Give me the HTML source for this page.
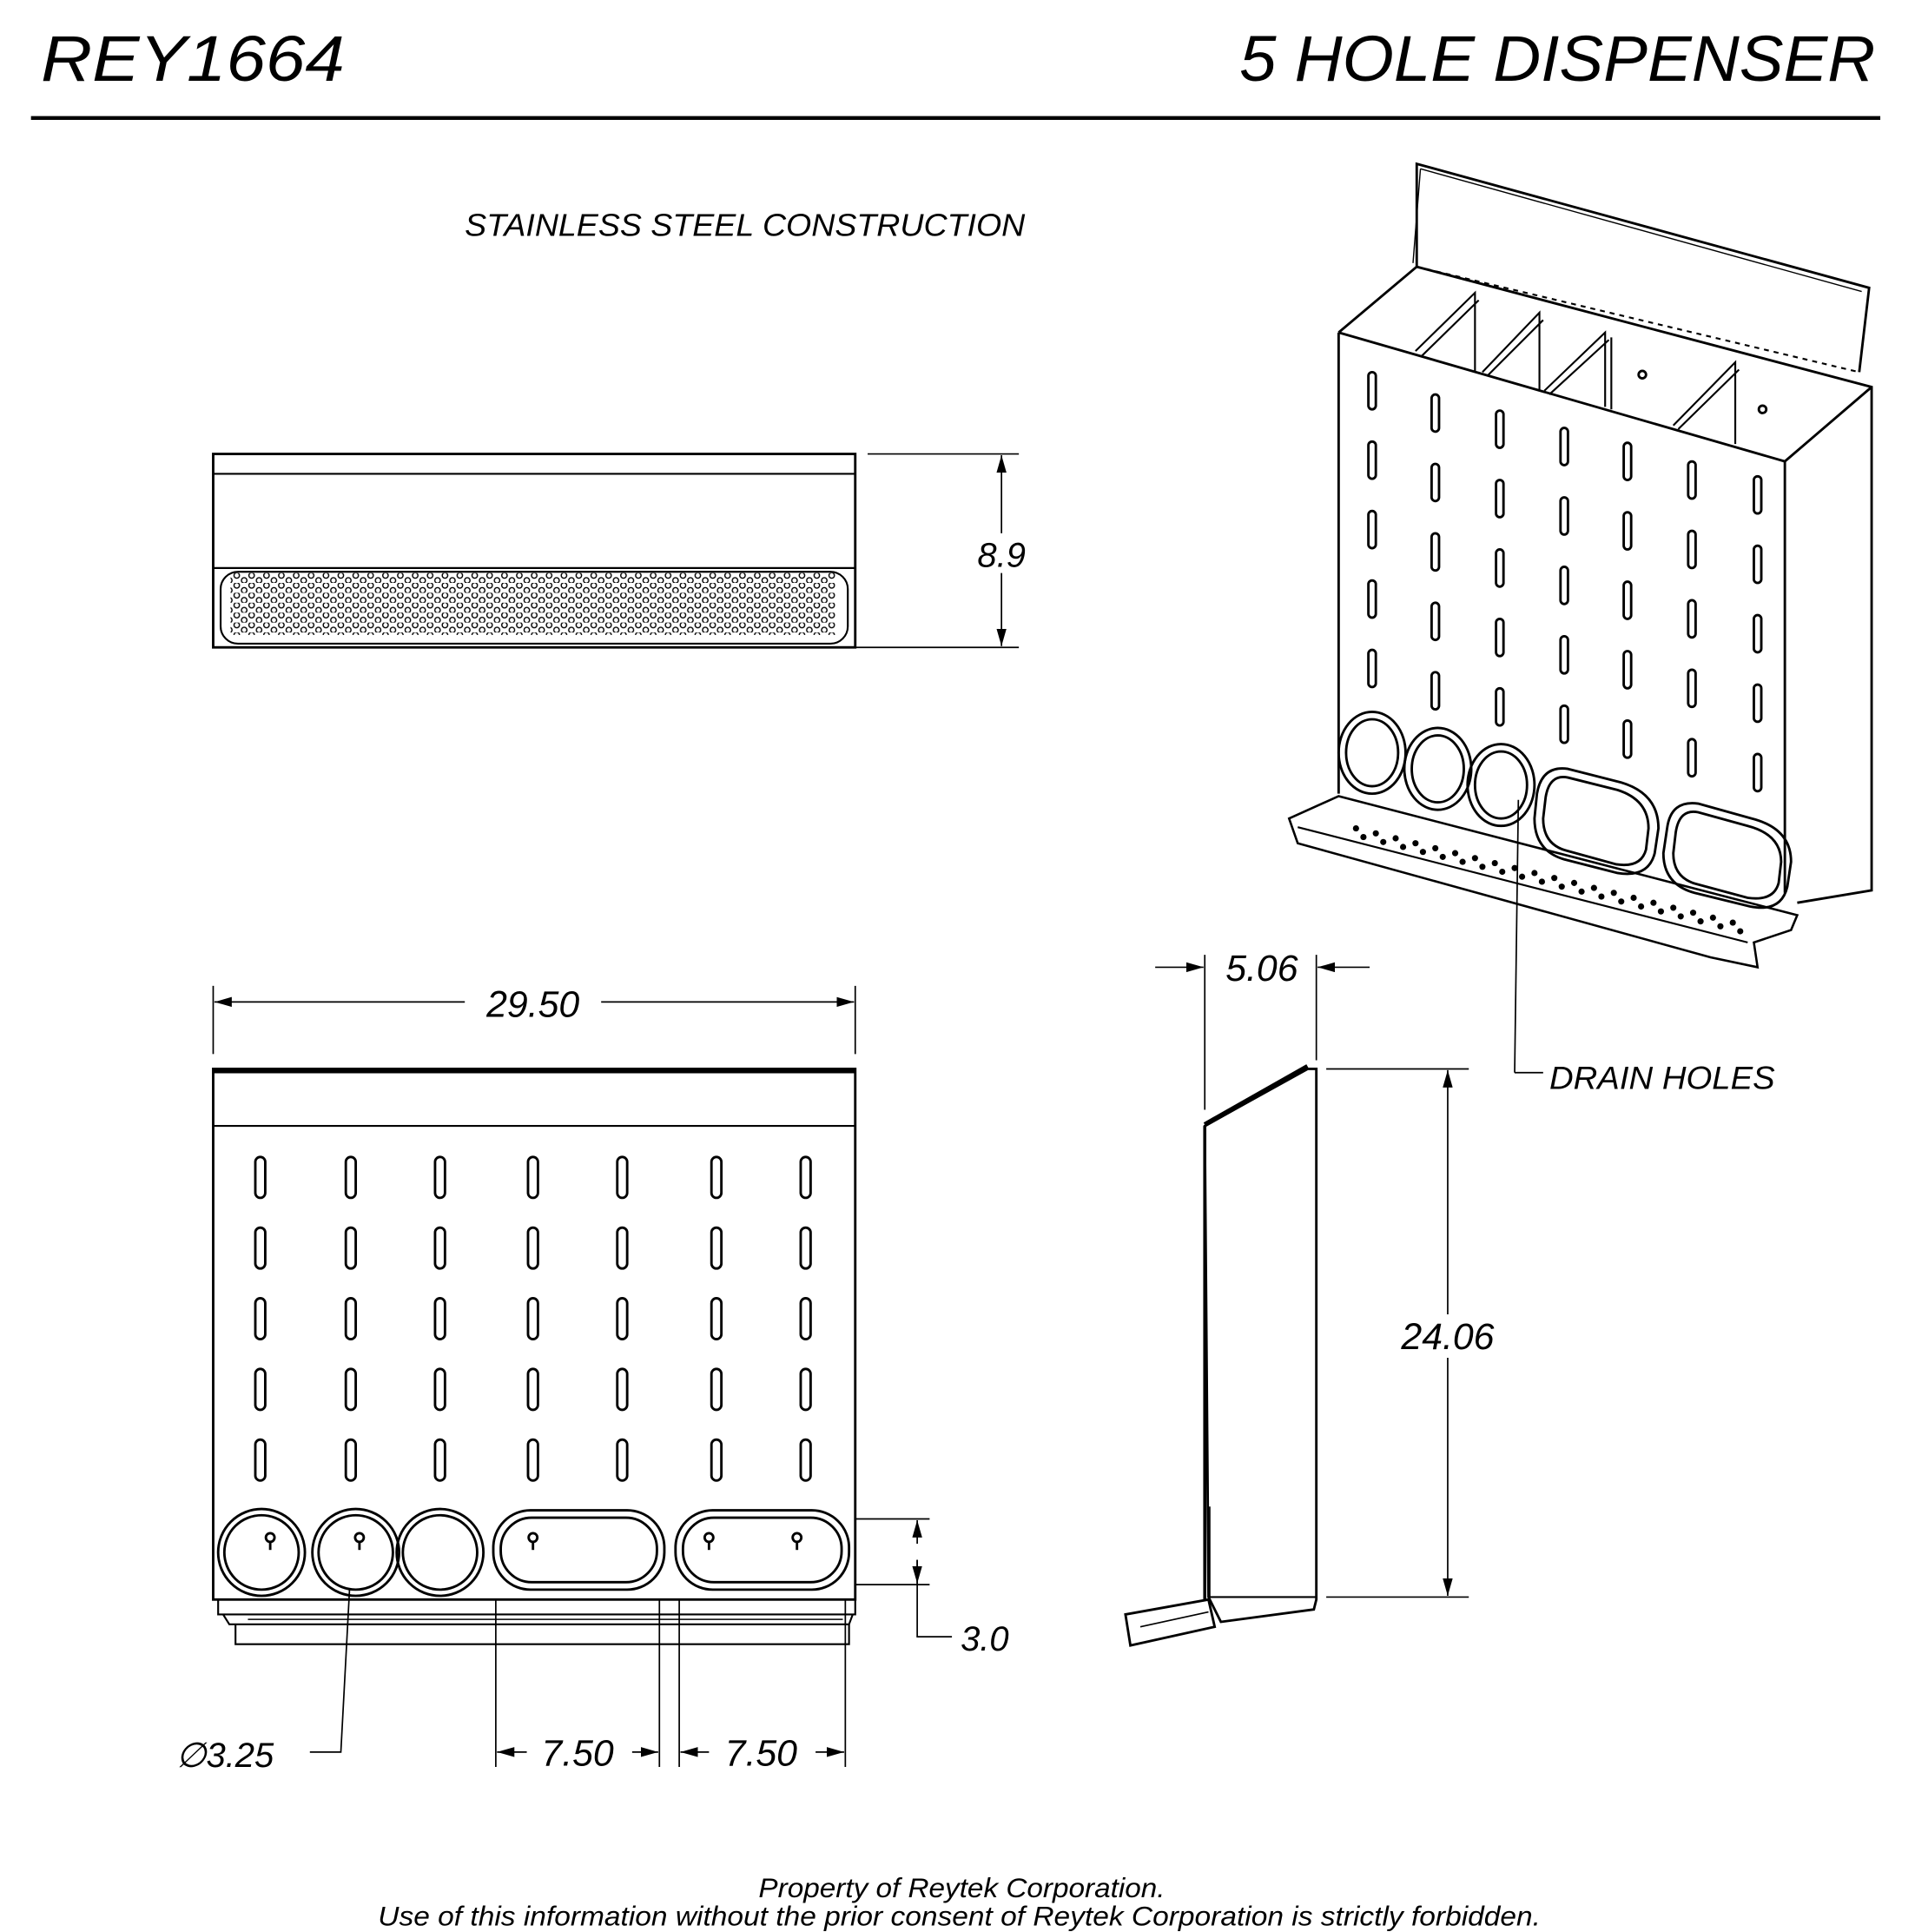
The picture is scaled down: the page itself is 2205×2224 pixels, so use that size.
<!DOCTYPE html>
<html><head><meta charset="utf-8"><style>
html,body{margin:0;padding:0;background:#fff;}
svg{display:block;}
text{font-family:"Liberation Sans",sans-serif;font-style:italic;fill:#000;}
</style></head><body>
<svg width="2205" height="2224" viewBox="0 0 1545 1558" xmlns="http://www.w3.org/2000/svg">
<defs>
<pattern id="perf" x="176" y="462" width="12" height="8" patternUnits="userSpaceOnUse">
<circle cx="3" cy="2" r="2.2" fill="none" stroke="#000" stroke-width="1"/>
<circle cx="9" cy="6" r="2.2" fill="none" stroke="#000" stroke-width="1"/>
</pattern>
<rect id="slot" x="-4" y="0" width="8" height="33" rx="4" fill="none" stroke="#000" stroke-width="2"/>
<rect id="islot" x="-3" y="0" width="6" height="30" rx="3" fill="none" stroke="#000" stroke-width="2"/>
<marker id="ar" markerWidth="14" markerHeight="8" refX="14" refY="4" orient="auto" markerUnits="userSpaceOnUse"><path d="M0,0 L14,4 L0,8z" fill="#000"/></marker>
</defs>
<g fill="none" stroke="#000">
<line x1="25" y1="95" x2="1517" y2="95" stroke-width="3"/>
<rect x="172" y="366" width="518" height="156" stroke-width="2"/>
<line x1="172" y1="382" x2="690" y2="382" stroke-width="1.5"/>
<line x1="172" y1="458" x2="690" y2="458" stroke-width="1.5"/>
<rect x="178" y="461" width="506" height="58" rx="14" stroke-width="1.5"/>
<rect x="186" y="462" width="488" height="50" fill="url(#perf)" stroke="none"/>
<line x1="700" y1="366" x2="822" y2="366" stroke-width="1.2"/>
<line x1="686" y1="522" x2="822" y2="522" stroke-width="1.2"/>
<line x1="808" y1="430" x2="808" y2="367" stroke-width="1.2" marker-end="url(#ar)"/>
<line x1="808" y1="462" x2="808" y2="521" stroke-width="1.2" marker-end="url(#ar)"/>
<line x1="172" y1="795" x2="172" y2="850" stroke-width="1.2"/>
<line x1="690" y1="795" x2="690" y2="850" stroke-width="1.2"/>
<line x1="375" y1="808" x2="173" y2="808" stroke-width="1.2" marker-end="url(#ar)"/>
<line x1="485" y1="808" x2="689" y2="808" stroke-width="1.2" marker-end="url(#ar)"/>
<rect x="172" y="862" width="518" height="428" stroke-width="2"/>
<line x1="172" y1="864" x2="690" y2="864" stroke-width="3"/>
<line x1="172" y1="908" x2="690" y2="908" stroke-width="1.5"/>
</g>
<g>
<use href="#slot" x="210" y="933"/><use href="#slot" x="283" y="933"/><use href="#slot" x="355" y="933"/><use href="#slot" x="430" y="933"/><use href="#slot" x="502" y="933"/><use href="#slot" x="578" y="933"/><use href="#slot" x="650" y="933"/>
<use href="#slot" x="210" y="990"/><use href="#slot" x="283" y="990"/><use href="#slot" x="355" y="990"/><use href="#slot" x="430" y="990"/><use href="#slot" x="502" y="990"/><use href="#slot" x="578" y="990"/><use href="#slot" x="650" y="990"/>
<use href="#slot" x="210" y="1047"/><use href="#slot" x="283" y="1047"/><use href="#slot" x="355" y="1047"/><use href="#slot" x="430" y="1047"/><use href="#slot" x="502" y="1047"/><use href="#slot" x="578" y="1047"/><use href="#slot" x="650" y="1047"/>
<use href="#slot" x="210" y="1104"/><use href="#slot" x="283" y="1104"/><use href="#slot" x="355" y="1104"/><use href="#slot" x="430" y="1104"/><use href="#slot" x="502" y="1104"/><use href="#slot" x="578" y="1104"/><use href="#slot" x="650" y="1104"/>
<use href="#slot" x="210" y="1161"/><use href="#slot" x="283" y="1161"/><use href="#slot" x="355" y="1161"/><use href="#slot" x="430" y="1161"/><use href="#slot" x="502" y="1161"/><use href="#slot" x="578" y="1161"/><use href="#slot" x="650" y="1161"/>
</g>
<g fill="none" stroke="#000" stroke-width="2">
<circle cx="211" cy="1252" r="35"/><circle cx="211" cy="1252" r="30"/>
<circle cx="287" cy="1252" r="35"/><circle cx="287" cy="1252" r="30"/>
<circle cx="355" cy="1252" r="35"/><circle cx="355" cy="1252" r="30"/>
<rect x="398" y="1218" width="138" height="64" rx="30"/><rect x="404" y="1224" width="126" height="52" rx="25"/>
<rect x="545" y="1218" width="140" height="64" rx="30"/><rect x="551" y="1224" width="128" height="52" rx="25"/>
<circle cx="218" cy="1240" r="3.5"/><line x1="218" y1="1243" x2="218" y2="1250"/>
<circle cx="290" cy="1240" r="3.5"/><line x1="290" y1="1243" x2="290" y2="1250"/>
<circle cx="430" cy="1240" r="3.5"/><line x1="430" y1="1243" x2="430" y2="1250"/>
<circle cx="572" cy="1240" r="3.5"/><line x1="572" y1="1243" x2="572" y2="1250"/>
<circle cx="643" cy="1240" r="3.5"/><line x1="643" y1="1243" x2="643" y2="1250"/>
<path d="M176,1290 L176,1302 L690,1302 L690,1290" stroke-width="1.5"/>
<path d="M180,1302 L185,1310 L685,1310 L688,1302" stroke-width="1.5"/>
<path d="M190,1310 L190,1326 L685,1326 L685,1310" stroke-width="1.5"/>
<line x1="200" y1="1306" x2="680" y2="1306" stroke-width="1"/>
</g>
<g fill="none" stroke="#000" stroke-width="1.2">
<line x1="690" y1="1225" x2="750" y2="1225"/><line x1="690" y1="1278" x2="750" y2="1278"/>
<line x1="740" y1="1245" x2="740" y2="1226" marker-end="url(#ar)"/>
<line x1="740" y1="1258" x2="740" y2="1277" marker-end="url(#ar)"/>
<polyline points="740,1258 740,1320 768,1320"/>
<polyline points="250,1413 275,1413 282,1282"/>
<line x1="400" y1="1290" x2="400" y2="1425"/><line x1="532" y1="1290" x2="532" y2="1425"/>
<line x1="548" y1="1290" x2="548" y2="1425"/><line x1="682" y1="1290" x2="682" y2="1425"/>
<line x1="425" y1="1413" x2="401" y2="1413" marker-end="url(#ar)"/>
<line x1="510" y1="1413" x2="531" y2="1413" marker-end="url(#ar)"/>
<line x1="572" y1="1413" x2="549" y2="1413" marker-end="url(#ar)"/>
<line x1="658" y1="1413" x2="681" y2="1413" marker-end="url(#ar)"/>
<line x1="972" y1="770" x2="972" y2="895"/><line x1="1062" y1="770" x2="1062" y2="855"/>
<line x1="932" y1="780" x2="971" y2="780" marker-end="url(#ar)"/>
<line x1="1105" y1="780" x2="1063" y2="780" marker-end="url(#ar)"/>
<line x1="1070" y1="862" x2="1185" y2="862"/><line x1="1070" y1="1288" x2="1185" y2="1288"/>
<line x1="1168" y1="1060" x2="1168" y2="863" marker-end="url(#ar)"/>
<line x1="1168" y1="1095" x2="1168" y2="1287" marker-end="url(#ar)"/>
</g>
<g fill="none" stroke="#000" stroke-width="2">
<path d="M972,908 L1055,862 L1062,862 L1062,1290 L1060,1298 L985,1308 L975,1288 Z"/>
<line x1="972" y1="908" x2="972" y2="1290" stroke-width="2.5"/>
<line x1="976" y1="1288" x2="1062" y2="1288" stroke-width="1.5"/>
<line x1="972" y1="907" x2="1055" y2="860" stroke-width="4"/>
<path d="M908,1302 L975,1290 L980,1312 L912,1327 Z"/>
<line x1="920" y1="1312" x2="975" y2="1300" stroke-width="1.2"/>
<line x1="976" y1="1215" x2="976" y2="1288" stroke-width="1.2"/>
</g>
<g fill="none" stroke="#000" stroke-width="2">
<path d="M1143,215 L1143,132 L1508,232 L1500,300"/>
<line x1="1146" y1="136" x2="1140" y2="212" stroke-width="1"/>
<line x1="1146" y1="136" x2="1502" y2="235" stroke-width="1"/>
<path d="M1080,268 L1143,215 L1510,312 L1510,718 L1450,728"/>
<path d="M1080,268 L1440,372 L1510,312"/>
<path d="M1080,268 L1080,640"/>
<path d="M1440,372 L1440,720"/>
<line x1="1143" y1="215" x2="1500" y2="300" stroke-width="1.5" stroke-dasharray="4,4"/>
<path d="M1142,283 L1190,236 L1190,300 M1147,287 L1193,242" stroke-width="1.5"/>
<path d="M1196,300 L1242,252 L1242,315 M1200,303 L1245,258" stroke-width="1.5"/>
<path d="M1246,315 L1295,268 L1295,328 M1250,318 L1298,274" stroke-width="1.5"/>
<path d="M1350,343 L1400,292 L1400,358 M1354,346 L1403,298" stroke-width="1.5"/>
<line x1="1300" y1="272" x2="1300" y2="330" stroke-width="1.5"/>
<circle cx="1325" cy="302" r="3"/><circle cx="1422" cy="330" r="3"/>
<ellipse cx="1107" cy="607" rx="27" ry="33"/><ellipse cx="1107" cy="607" rx="21" ry="27"/>
<ellipse cx="1160" cy="620" rx="27" ry="33"/><ellipse cx="1160" cy="620" rx="21" ry="27"/>
<ellipse cx="1211" cy="633" rx="27" ry="33"/><ellipse cx="1211" cy="633" rx="21" ry="27"/>
<path d="M1265,620 L1308,631 Q1338,640 1338,668 L1335,688 Q1330,708 1305,704 L1262,693 Q1238,686 1238,660 L1240,640 Q1244,617 1265,620 Z"/>
<path d="M1265,627 L1305,637 Q1330,645 1330,668 L1328,685 Q1324,700 1304,697 L1264,686 Q1245,681 1245,660 L1247,643 Q1250,624 1265,627 Z"/>
<path d="M1370,648 L1413,660 Q1445,668 1445,695 L1442,715 Q1437,736 1412,731 L1367,720 Q1342,713 1342,688 L1345,668 Q1348,645 1370,648 Z"/>
<path d="M1370,655 L1410,666 Q1437,673 1437,695 L1435,712 Q1431,727 1410,724 L1369,713 Q1350,708 1350,688 L1352,671 Q1355,652 1370,655 Z"/>
<path d="M1040,660 L1080,642 L1450,738 L1445,750 L1415,760 L1418,780 L1380,772 L1047,680 Z" stroke-width="1.8"/>
<path d="M1047,667 L1410,760" stroke-width="1.5"/>
<line x1="1225" y1="645" x2="1222" y2="865" stroke-width="1.2"/>
<polyline points="1222,865 1245,865" stroke-width="1.2"/>
</g>
<g fill="#000">
<circle cx="1094" cy="668" r="2.5"/><circle cx="1110" cy="672" r="2.5"/><circle cx="1126" cy="676" r="2.5"/><circle cx="1142" cy="680" r="2.5"/><circle cx="1158" cy="684" r="2.5"/><circle cx="1174" cy="688" r="2.5"/><circle cx="1190" cy="692" r="2.5"/><circle cx="1206" cy="696" r="2.5"/><circle cx="1222" cy="700" r="2.5"/><circle cx="1238" cy="704" r="2.5"/><circle cx="1254" cy="708" r="2.5"/><circle cx="1270" cy="712" r="2.5"/><circle cx="1286" cy="716" r="2.5"/><circle cx="1302" cy="720" r="2.5"/><circle cx="1318" cy="724" r="2.5"/><circle cx="1334" cy="728" r="2.5"/><circle cx="1350" cy="732" r="2.5"/><circle cx="1366" cy="736" r="2.5"/><circle cx="1382" cy="740" r="2.5"/><circle cx="1398" cy="744" r="2.5"/>
<circle cx="1100" cy="675" r="2.5"/><circle cx="1116" cy="679" r="2.5"/><circle cx="1132" cy="683" r="2.5"/><circle cx="1148" cy="687" r="2.5"/><circle cx="1164" cy="691" r="2.5"/><circle cx="1180" cy="695" r="2.5"/><circle cx="1196" cy="699" r="2.5"/><circle cx="1212" cy="703" r="2.5"/><circle cx="1228" cy="707" r="2.5"/><circle cx="1244" cy="711" r="2.5"/><circle cx="1260" cy="715" r="2.5"/><circle cx="1276" cy="719" r="2.5"/><circle cx="1292" cy="723" r="2.5"/><circle cx="1308" cy="727" r="2.5"/><circle cx="1324" cy="731" r="2.5"/><circle cx="1340" cy="735" r="2.5"/><circle cx="1356" cy="739" r="2.5"/><circle cx="1372" cy="743" r="2.5"/><circle cx="1388" cy="747" r="2.5"/><circle cx="1404" cy="751" r="2.5"/>
</g>
<g>
<use href="#islot" x="1107" y="300"/><use href="#islot" x="1107" y="356"/><use href="#islot" x="1107" y="412"/><use href="#islot" x="1107" y="468"/><use href="#islot" x="1107" y="524"/>
<use href="#islot" x="1158" y="318"/><use href="#islot" x="1158" y="374"/><use href="#islot" x="1158" y="430"/><use href="#islot" x="1158" y="486"/><use href="#islot" x="1158" y="542"/>
<use href="#islot" x="1210" y="331"/><use href="#islot" x="1210" y="387"/><use href="#islot" x="1210" y="443"/><use href="#islot" x="1210" y="499"/><use href="#islot" x="1210" y="555"/>
<use href="#islot" x="1262" y="345"/><use href="#islot" x="1262" y="401"/><use href="#islot" x="1262" y="457"/><use href="#islot" x="1262" y="513"/><use href="#islot" x="1262" y="569"/>
<use href="#islot" x="1313" y="357"/><use href="#islot" x="1313" y="413"/><use href="#islot" x="1313" y="469"/><use href="#islot" x="1313" y="525"/><use href="#islot" x="1313" y="581"/>
<use href="#islot" x="1365" y="372"/><use href="#islot" x="1365" y="428"/><use href="#islot" x="1365" y="484"/><use href="#islot" x="1365" y="540"/><use href="#islot" x="1365" y="596"/>
<use href="#islot" x="1418" y="384"/><use href="#islot" x="1418" y="440"/><use href="#islot" x="1418" y="496"/><use href="#islot" x="1418" y="552"/><use href="#islot" x="1418" y="608"/>
</g>
<text x="33" y="65" font-size="52" textLength="245" lengthAdjust="spacingAndGlyphs">REY1664</text>
<text x="1000" y="65" font-size="52" textLength="513" lengthAdjust="spacingAndGlyphs">5 HOLE DISPENSER</text>
<text x="375" y="190" font-size="25" textLength="452" lengthAdjust="spacingAndGlyphs">STAINLESS STEEL CONSTRUCTION</text>
<text x="808" y="457" font-size="28" text-anchor="middle">8.9</text>
<text x="430" y="820" font-size="30" text-anchor="middle">29.50</text>
<text x="775" y="1331" font-size="28">3.0</text>
<text x="142" y="1425" font-size="28">∅3.25</text>
<text x="466" y="1424" font-size="30" text-anchor="middle">7.50</text>
<text x="614" y="1424" font-size="30" text-anchor="middle">7.50</text>
<text x="1018" y="791" font-size="30" text-anchor="middle">5.06</text>
<text x="1168" y="1088" font-size="30" text-anchor="middle">24.06</text>
<text x="1250" y="878" font-size="26" textLength="182" lengthAdjust="spacingAndGlyphs">DRAIN HOLES</text>
<text x="612" y="1530" font-size="22" textLength="328" lengthAdjust="spacingAndGlyphs">Property of Reytek Corporation.</text>
<text x="305" y="1553" font-size="22" textLength="938" lengthAdjust="spacingAndGlyphs">Use of this information without the prior consent of Reytek Corporation is strictly forbidden.</text>
</svg>
</body></html>
